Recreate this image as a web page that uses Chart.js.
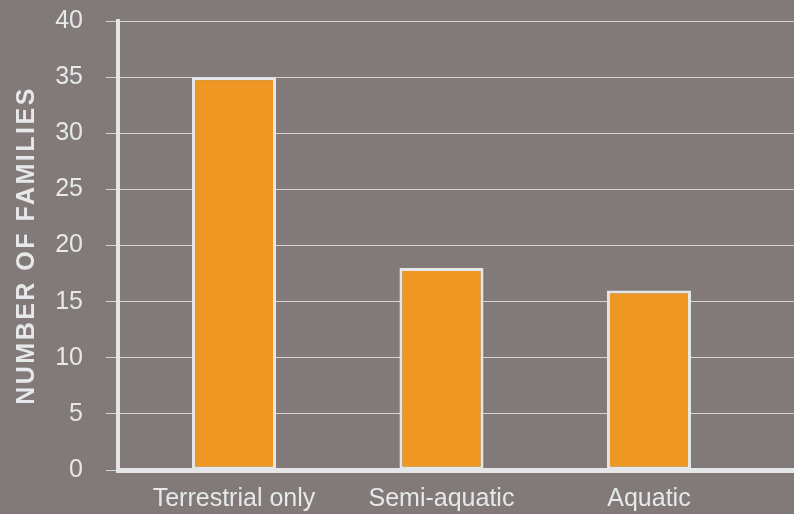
<!DOCTYPE html>
<html>
<head>
<meta charset="utf-8">
<script src="https://cdn.jsdelivr.net/npm/chart.js@4"></script>
<style>
    html, body { margin: 0; padding: 0; background: #817a79; }
    #wrap { width: 794px; height: 514px; }
</style>
</head>
<body>
<div id="wrap"><canvas id="graph-container"></canvas></div>
<script>
// Chart data
var categories = ['Terrestrial only', 'Semi-aquatic', 'Aquatic'];
var familyCounts = [35, 18, 16];
var yTicks = [0, 5, 10, 15, 20, 25, 30, 35, 40];

var textColor = '#e6e8ea';
var fontFamily = '"Liberation Sans", Arial, sans-serif';

// Bars sit on a linear x scale so the category slots can start away from the axis
var points = categories.map(function (c, i) {
    return { x: i, y: familyCounts[i] };
});

var ctx = document.getElementById('graph-container').getContext('2d');

window.myChart = new Chart(ctx, {
    type: 'bar',
    data: {
        datasets: [{
            data: points,
            backgroundColor: '#ee9722',
            borderColor: '#e4e6e8',
            borderWidth: 3,
            borderSkipped: false,
            categoryPercentage: 1,
            barPercentage: 0.405
        }]
    },
    options: {
        responsive: true,
        maintainAspectRatio: false,
        animation: false,
        layout: {
            padding: { top: 21, right: 0, left: 0, bottom: 0 }
        },
        plugins: {
            legend: { display: false },
            tooltip: { enabled: false }
        },
        scales: {
            x: {
                type: 'linear',
                min: -0.559,
                max: 2.699,
                offset: false,
                z: 1,
                grid: { display: false, offset: false },
                border: { display: true, width: 5, color: '#e4e6e8' },
                afterBuildTicks: function (scale) {
                    scale.ticks = categories.map(function (c, i) { return { value: i }; });
                },
                afterFit: function (scale) { scale.height = 44; },
                ticks: {
                    color: textColor,
                    font: { family: fontFamily, size: 25 },
                    padding: 6,
                    maxRotation: 0,
                    autoSkip: false,
                    callback: function (value) { return categories[value]; }
                }
            },
            y: {
                min: 0,
                max: 40,
                afterBuildTicks: function (scale) {
                    scale.ticks = yTicks.map(function (v) { return { value: v }; });
                },
                afterFit: function (scale) {
                    scale.width = 118;
                    scale.paddingTop = 0;
                    scale.paddingBottom = 0;
                    // spaced-out capitals for the axis title
                    if (!scale._spacedTitle) {
                        var drawTitle = scale.drawTitle;
                        scale.drawTitle = function () {
                            this.ctx.save();
                            this.ctx.letterSpacing = '2.5px';
                            drawTitle.apply(this, arguments);
                            this.ctx.restore();
                        };
                        scale._spacedTitle = true;
                    }
                },
                grid: {
                    color: '#d4d4d4',
                    lineWidth: 1,
                    tickLength: 12,
                    drawTicks: true
                },
                border: { display: true, width: 4, color: '#e4e6e8' },
                ticks: {
                    color: textColor,
                    font: { family: fontFamily, size: 25 },
                    padding: 23
                },
                title: {
                    display: true,
                    text: 'NUMBER OF FAMILIES',
                    color: textColor,
                    font: { family: fontFamily, size: 25, weight: 'bold' },
                    padding: { top: 12, bottom: 0 }
                }
            }
        }
    }
});
</script>
</body>
</html>
